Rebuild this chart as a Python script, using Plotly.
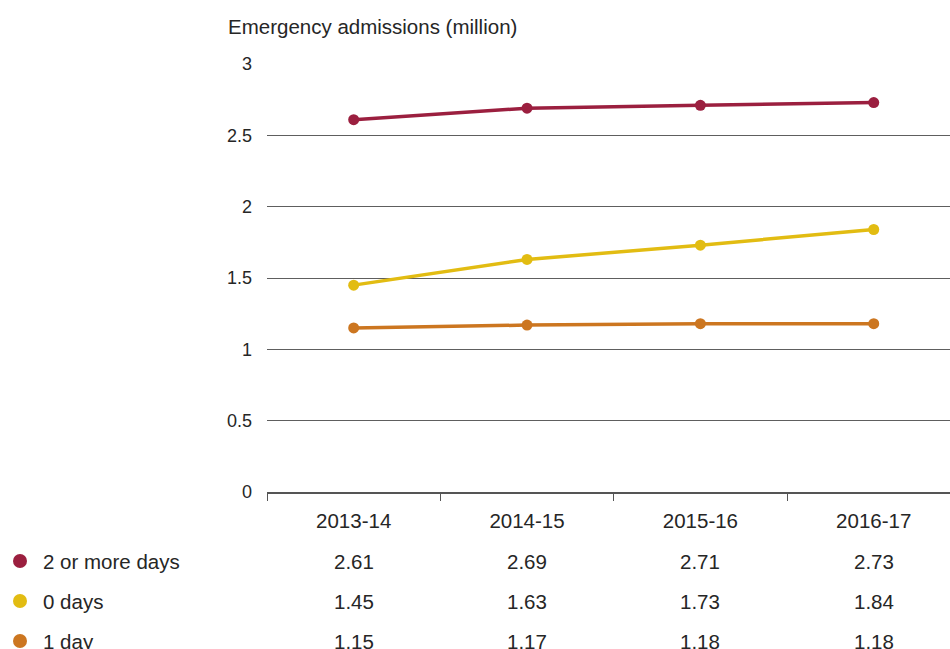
import plotly.graph_objects as go

# Emergency admissions by length of stay (million)
years = ["2013-14", "2014-15", "2015-16", "2016-17"]
series_names = ["2 or more days", "0 days", "1 day"]
two_plus_days = [2.61, 2.69, 2.71, 2.73]
zero_days = [1.45, 1.63, 1.73, 1.84]
one_day = [1.15, 1.17, 1.18, 1.18]
series_colors = ["#9b1f3f", "#e2bc12", "#cc7620"]
y_ticks = [0, 0.5, 1, 1.5, 2, 2.5, 3]
y_tick_labels = ["0", "0.5", "1", "1.5", "2", "2.5", "3"]

series_values = [two_plus_days, zero_days, one_day]

FONT = "Liberation Sans, Arial, sans-serif"
TEXT = "#262626"

W, H = 950, 649
L, R, T, B = 267, 0, 64, 157
plot_h = H - T - B
plot_w = W - L - R

fig = go.Figure()
for name, vals, col in zip(series_names, series_values, series_colors):
    fig.add_trace(go.Scatter(
        x=years, y=vals, name=name, mode="lines+markers",
        line=dict(color=col, width=3.5),
        marker=dict(color=col, size=11),
        showlegend=False,
    ))

annotations = []
shapes = []


def paper_y(px):
    return (H - B - px) / plot_h


def paper_x(px):
    return (px - L) / plot_w


# Y-axis title
annotations.append(dict(
    text="Emergency admissions (million)", xref="paper", yref="paper",
    x=paper_x(226), y=paper_y(27), xanchor="left", yanchor="middle",
    showarrow=False, font=dict(family=FONT, size=20.5, color=TEXT),
))

# Data table below the chart: legend marker, series name, then values per year
row_px = [561, 601, 641]
for name, vals, col, py in zip(series_names, series_values, series_colors, row_px):
    yp = paper_y(py)
    shapes.append(dict(
        type="circle", xref="paper", yref="paper",
        xsizemode="pixel", ysizemode="pixel",
        xanchor=paper_x(20), yanchor=yp,
        x0=-7, x1=7, y0=-7, y1=7,
        fillcolor=col, line=dict(width=0),
    ))
    annotations.append(dict(
        text=name, xref="paper", yref="paper", x=paper_x(41), y=yp,
        xanchor="left", yanchor="middle", showarrow=False,
        font=dict(family=FONT, size=20.5, color=TEXT),
    ))
    for yr, v in zip(years, vals):
        annotations.append(dict(
            text=f"{v:.2f}", xref="x", yref="paper", x=yr, y=yp,
            xanchor="center", yanchor="middle", showarrow=False,
            font=dict(family=FONT, size=20.5, color=TEXT),
        ))

fig.update_layout(
    width=W, height=H,
    margin=dict(l=L, r=R, t=T, b=B, pad=0),
    paper_bgcolor="white", plot_bgcolor="white",
    font=dict(family=FONT, color=TEXT),
    annotations=annotations,
    shapes=shapes,
    xaxis=dict(
        type="category", categoryorder="array", categoryarray=years,
        range=[-0.5, 3.44],
        showgrid=False, zeroline=False,
        showline=True, linecolor="#555555", linewidth=1.5,
        ticks="outside", tickson="boundaries", ticklen=7, tickcolor="#555555",
        tickfont=dict(family=FONT, size=20.5, color=TEXT),
        ticklabelstandoff=10,
    ),
    yaxis=dict(
        range=[0, 3], tickvals=y_ticks, ticktext=y_tick_labels,
        showgrid=True, gridcolor="#5e5e5e", gridwidth=1,
        zeroline=False, showline=False, ticks="",
        tickfont=dict(family=FONT, size=18, color=TEXT),
        ticklabelstandoff=14,
    ),
)

fig.write_html("out.html")
